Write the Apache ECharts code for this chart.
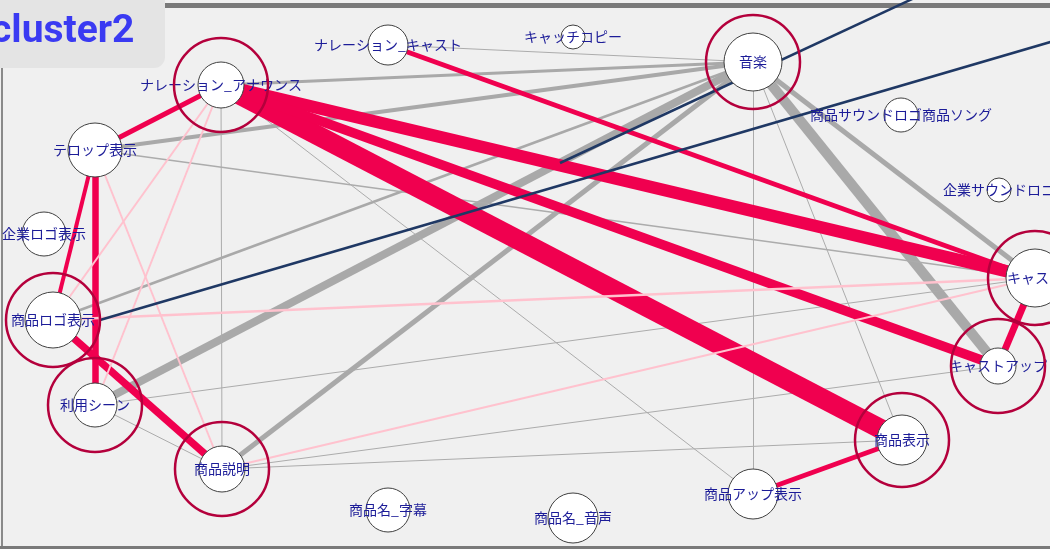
<!DOCTYPE html>
<html><head><meta charset="utf-8">
<script src="https://cdn.jsdelivr.net/npm/echarts@6/dist/echarts.min.js"></script>
<style>html,body{margin:0;padding:0;background:#f0f0f0;overflow:hidden}#c{width:1050px;height:549px}</style>
</head><body><div id="c"></div><script>
// ---- data ----
const title = 'cluster2';
const nodeNames = ['ナレーション_アナウンス','テロップ表示','ナレーション_キャスト','キャッチコピー','音楽','商品サウンドロゴ商品ソング','企業サウンドロゴ','企業ロゴ表示','商品ロゴ表示','利用シーン','商品説明','商品名_字幕','商品名_音声','商品表示','商品アップ表示','キャスト','キャストアップ'];
const nodeX = [221, 95, 388, 573, 753, 901, 999, 44, 53, 95, 222, 388, 573, 902, 753, 1035, 998];
const nodeY = [85, 150, 45, 37, 62, 115, 190, 234, 320, 405, 469, 510, 518, 440, 494, 278, 366];
const nodeWeight = [23, 27, 20, 12, 29, 17, 12, 22, 28, 22, 23, 22, 25, 25, 25, 29, 18];
const nodeCentral = [1, 0, 0, 0, 1, 0, 0, 0, 1, 1, 1, 0, 0, 1, 0, 1, 1];
// hidden anchor points of edges leading outside the view
const anchorNames = ['a1', 'a2', 'a3', 'a4'];
const anchorX = [100, 1300, 560, 1200];
const anchorY = [320, -31, 163, -135];

const linkSource = [
  '音楽','音楽','音楽','音楽','音楽','音楽','音楽','音楽','音楽','音楽',
  'ナレーション_アナウンス','ナレーション_アナウンス','テロップ表示','利用シーン','利用シーン','商品説明','商品説明',
  'ナレーション_アナウンス','ナレーション_アナウンス','ナレーション_アナウンス','ナレーション_キャスト','ナレーション_アナウンス','テロップ表示','テロップ表示','商品ロゴ表示','商品表示','キャスト',
  'ナレーション_アナウンス','ナレーション_アナウンス','テロップ表示','商品ロゴ表示','商品説明',
  'a1','a3'];
const linkTarget = [
  'テロップ表示','ナレーション_アナウンス','ナレーション_キャスト','商品ロゴ表示','利用シーン','商品説明','商品アップ表示','商品表示','キャストアップ','キャスト',
  '商品説明','商品アップ表示','キャスト','キャスト','商品説明','商品表示','キャストアップ',
  '商品表示','キャスト','キャストアップ','キャスト','テロップ表示','商品ロゴ表示','利用シーン','商品説明','商品アップ表示','キャストアップ',
  '商品ロゴ表示','利用シーン','商品説明','キャスト','キャスト',
  'a2','a4'];
const linkWeight = [
  4, 3, 1.2, 2.5, 8, 5, 1, 1, 10, 5,
  1, 1, 1.5, 1, 1, 1, 1,
  20, 12.5, 9.5, 5, 5, 4, 6.5, 7.5, 5, 7,
  2, 2, 2, 2.5, 2,
  2.5, 2.5];
const linkKind = [
  'g','g','t','g','g','g','t','t','g','g',
  't','t','t','t','t','t','t',
  'r','r','r','r','r','r','r','r','r','r',
  'p','p','p','p','p',
  'n','n'];

// ---- build ----
const kindColor = {g:'#a9a9a9', t:'#acacac', r:'#f0004f', p:'#ffc2ce', n:'#1f3864'};
const labelFont = '"Noto Sans CJK JP","Noto Sans CJK SC",sans-serif';

const nodes = nodeNames.map((n, i) => ({
  name: n, value: [nodeX[i], nodeY[i]], symbolSize: nodeWeight[i] * 2,
  itemStyle: {color: '#ffffff', borderColor: '#404040', borderWidth: 1},
  label: {show: true, position: 'inside', color: '#1c1c98', fontSize: 14, fontFamily: labelFont}
})).concat(anchorNames.map((n, i) => ({
  name: n, value: [anchorX[i], anchorY[i]], symbolSize: 0,
  itemStyle: {opacity: 0}, label: {show: false}
})));

const links = linkSource.map((s, i) => ({
  source: s, target: linkTarget[i],
  lineStyle: {color: kindColor[linkKind[i]], width: linkWeight[i], opacity: 1, curveness: 0}
}));

const rings = [];
nodeNames.forEach((n, i) => { if (nodeCentral[i]) rings.push([nodeX[i], nodeY[i]]); });

const chart = echarts.init(document.getElementById('c'), null, {renderer: 'canvas'});
chart.setOption({
  animation: false,
  backgroundColor: '#f0f0f0',
  grid: {left: 0, right: 0, top: 0, bottom: 0},
  xAxis: {type: 'value', min: 0, max: 1050, show: false},
  yAxis: {type: 'value', min: 0, max: 549, inverse: true, show: false},
  graphic: [
    {type: 'rect', z: 0, shape: {x: 0, y: 3, width: 1050, height: 5}, style: {fill: '#7a7a7a'}, silent: true},
    {type: 'rect', z: 0, shape: {x: 1, y: 0, width: 2, height: 549}, style: {fill: '#8a8a8a'}, silent: true},
    {type: 'rect', z: 0, shape: {x: 0, y: 546, width: 1050, height: 3}, style: {fill: '#7a7a7a'}, silent: true},
    {type: 'rect', z: 100, shape: {x: -14, y: -14, width: 179, height: 82, r: 11}, style: {fill: '#e4e4e4'}, silent: true},
    {type: 'text', z: 101, x: -9, y: 32, style: {text: title, fill: '#3a3af2', font: 'bold 39px Roboto, sans-serif', verticalAlign: 'middle'}, silent: true}
  ],
  series: [
    {
      type: 'graph', coordinateSystem: 'cartesian2d', layout: 'none', silent: true, z: 2,
      data: nodes, links: links, edgeSymbol: ['none', 'none'],
      lineStyle: {opacity: 1}, emphasis: {disabled: true}
    },
    {
      type: 'scatter', z: 3, silent: true, symbol: 'circle', symbolSize: 94,
      data: rings,
      itemStyle: {color: 'rgba(0,0,0,0)', borderColor: '#b4003c', borderWidth: 2.5, opacity: 1}
    }
  ]
});
</script></body></html>
